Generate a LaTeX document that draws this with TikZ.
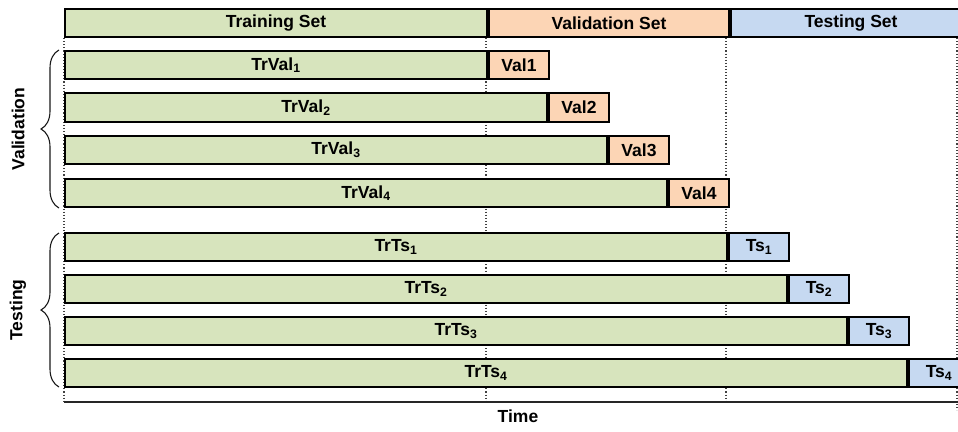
\documentclass[tikz,border=0pt]{standalone}
\usepackage{fontspec}
\setmainfont{Liberation Sans}
\usetikzlibrary{decorations.pathreplacing}
\definecolor{gfill}{HTML}{D7E4BD}
\definecolor{ofill}{HTML}{FCD5B5}
\definecolor{bfill}{HTML}{C6D9F1}
\begin{document}
\begin{tikzpicture}[x=1pt,y=-1pt,
  lbl/.style={font=\fontsize{17.5}{19}\selectfont\bfseries},
  bar/.style={draw=black, line width=2pt, rectangle, inner sep=0pt,
    minimum height=28.5pt, anchor=west, lbl},
  gbar/.style={bar, fill=gfill},
  obar/.style={bar, fill=ofill},
  bbar/.style={bar, fill=bfill},
  guide/.style={draw=black!75, dotted, line width=1.1pt},
  axisline/.style={draw=black!85, line width=1.2pt},
  bracestyle/.style={draw=black!90, line width=1.1pt, decorate,
    decoration={brace, amplitude=18pt, aspect=0.5}}
]
\useasboundingbox (0,0) rectangle (958,431);
% guide coordinates
\coordinate (g0t) at (64,38);  \coordinate (g0b) at (64,402);
\coordinate (g1t) at (486,38); \coordinate (g1b) at (486,402);
\coordinate (g2t) at (726,38); \coordinate (g2b) at (726,402);
\coordinate (g3t) at (957,38); \coordinate (g3b) at (957,410);
\coordinate (axl) at (64,402); \coordinate (axr) at (958,402);
\draw[guide] (g0t) -- (g0b);
\draw[guide] (g1t) -- (g1b);
\draw[guide] (g2t) -- (g2b);
\draw[guide] (g3t) -- (g3b);
\draw[axisline] (axl) -- (axr);
% header
\node[gbar, minimum width=422pt] (train) at (64,23) {Training Set};
\node[obar, minimum width=240pt] (valset) at (train.east) {Validation Set};
\node[bbar, minimum width=240pt] (testset) at (valset.east) {Testing Set};
% validation rows
\node[gbar, minimum width=422pt] (trval1) at (64,65) {TrVal\textsubscript{1}};
\node[obar, minimum width=60pt] (val1) at (trval1.east) {Val1};
\node[gbar, minimum width=482pt] (trval2) at (64,107.5) {TrVal\textsubscript{2}};
\node[obar, minimum width=60pt] (val2) at (trval2.east) {Val2};
\node[gbar, minimum width=542pt] (trval3) at (64,150) {TrVal\textsubscript{3}};
\node[obar, minimum width=60pt] (val3) at (trval3.east) {Val3};
\node[gbar, minimum width=602pt] (trval4) at (64,193) {TrVal\textsubscript{4}};
\node[obar, minimum width=60pt] (val4) at (trval4.east) {Val4};
% testing rows
\node[gbar, minimum width=662pt] (trts1) at (64,247) {TrTs\textsubscript{1}};
\node[bbar, minimum width=60pt] (ts1) at (trts1.east) {Ts\textsubscript{1}};
\node[gbar, minimum width=722pt] (trts2) at (64,289) {TrTs\textsubscript{2}};
\node[bbar, minimum width=60pt] (ts2) at (trts2.east) {Ts\textsubscript{2}};
\node[gbar, minimum width=782pt] (trts3) at (64,331) {TrTs\textsubscript{3}};
\node[bbar, minimum width=60pt] (ts3) at (trts3.east) {Ts\textsubscript{3}};
\node[gbar, minimum width=842pt] (trts4) at (64,373) {TrTs\textsubscript{4}};
\node[bbar, minimum width=60pt] (ts4) at (trts4.east) {Ts\textsubscript{4}};
% braces
\coordinate (vb1) at (59,208); \coordinate (vb2) at (59,50);
\coordinate (tb1) at (59,387); \coordinate (tb2) at (59,233);
\draw[bracestyle] (vb1) -- (vb2);
\draw[bracestyle] (tb1) -- (tb2);
\node[lbl, rotate=90] (vlab) at (18,129) {Validation};
\node[lbl, rotate=90] (tlab) at (18,310) {Testing};
\node[lbl] (time) at (518,416) {Time};
\end{tikzpicture}
\end{document}
